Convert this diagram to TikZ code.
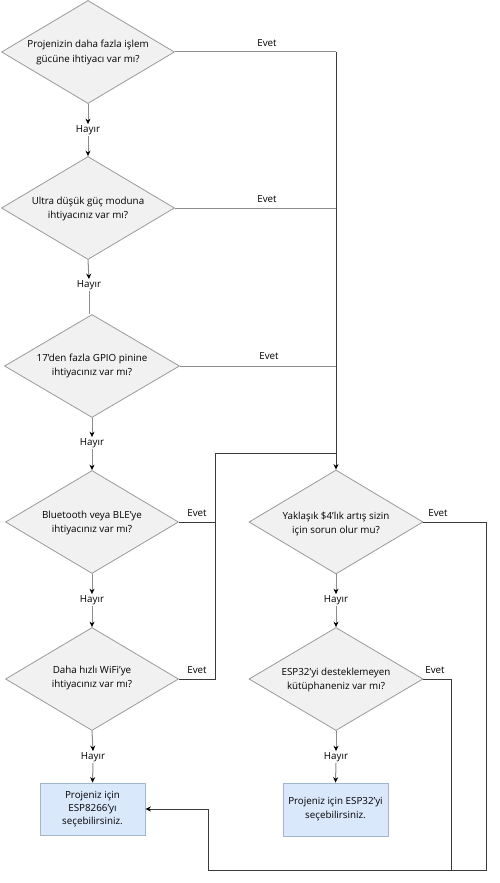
\documentclass[tikz,border=0pt]{standalone}
\usepackage{fontspec}
\setmainfont{Open Sans}
\usetikzlibrary{shapes.geometric,arrows.meta}
\definecolor{dfill}{HTML}{F1F1F1}
\definecolor{ddraw}{HTML}{9A9A9A}
\definecolor{bfill}{HTML}{DAE8FC}
\definecolor{bdraw}{HTML}{A3B6CF}
\definecolor{lgray}{HTML}{8C8C8C}
\definecolor{ldark}{HTML}{3A3A3A}
\tikzset{
  dec/.style={diamond, draw=ddraw, fill=dfill, line width=0.8pt, inner sep=0pt, minimum width=173pt, minimum height=103pt},
  dtext/.style={align=center, font=\fontsize{9.8}{14.5}\selectfont, inner sep=0pt},
  endbox/.style={draw=bdraw, fill=bfill, line width=0.8pt, minimum width=105pt, minimum height=52pt, align=center, inner sep=0pt},
  lbl/.style={font=\fontsize{9.8}{11}\selectfont, inner sep=1pt},
  flow/.style={draw=ldark, line width=0.9pt},
  gflow/.style={draw=lgray, line width=1pt},
  arr/.style={-{Stealth[length=5.5pt,width=5pt,color=black]}},
}
\begin{document}
\begin{tikzpicture}[x=1pt,y=-1pt]
\useasboundingbox (0,0) rectangle (500,883);
% decisions
\node[dec] (d1) at (88,52) {};
\node[dtext] (t1) at (88,52.5) {Projenizin daha fazla işlem\\gücüne ihtiyacı var mı?};
\node[dec] (d2) at (88,208) {};
\node[dtext] (t2) at (88,209) {Ultra düşük güç moduna\\ihtiyacınız var mı?};
\node[dec, minimum width=175pt] (d3) at (92,366) {};
\node[dtext] (t3) at (92,366) {17’den fazla GPIO pinine\\ihtiyacınız var mı?};
\node[dec] (d4) at (92,522) {};
\node[dtext] (t4) at (92,523) {Bluetooth veya BLE’ye\\ihtiyacınız var mı?};
\node[dec] (d5) at (92,679) {};
\node[dtext] (t5) at (92,678) {Daha hızlı WiFi’ye\\ihtiyacınız var mı?};
\node[dec, minimum width=174pt, minimum height=104pt] (d6) at (336,522) {};
\node[dtext] (t6) at (336,524) {Yaklaşık \$4’lık artış sizin\\için sorun olur mu?};
\node[dec, minimum width=174pt] (d7) at (336,679) {};
\node[dtext] (t7) at (336,680) {ESP32’yi desteklemeyen\\kütüphaneniz var mı?};
% end boxes
\node[endbox, font=\fontsize{9.8}{12.8}\selectfont] (b1) at (92.5,809) {Projeniz için\\ESP8266’yı\\seçebilirsiniz.};
\node[endbox, minimum height=53pt, font=\fontsize{9.8}{14}\selectfont] (b2) at (335.5,809.5) {Projeniz için ESP32’yi\\seçebilirsiniz.};
% Hayir labels
\node[lbl] (h1) at (88,130) {Hayır};
\node[lbl] (h2) at (89,285) {Hayır};
\node[lbl] (h3) at (92,443) {Hayır};
\node[lbl] (h4) at (92,600) {Hayır};
\node[lbl] (h5) at (93,757) {Hayır};
\node[lbl] (h6) at (336,600) {Hayır};
\node[lbl] (h7) at (336,757) {Hayır};
% Evet labels
\node[lbl] (e1) at (267,43) {Evet};
\node[lbl] (e2) at (267,199) {Evet};
\node[lbl] (e3) at (269,356) {Evet};
\node[lbl] (e4) at (197,513) {Evet};
\node[lbl] (e5) at (197,670) {Evet};
\node[lbl] (e6) at (438,513) {Evet};
\node[lbl] (e7) at (435,670) {Evet};
% coordinates
\coordinate (c1) at (336,52);
\coordinate (c2) at (336,208);
\coordinate (c3) at (336,366);
\coordinate (c4) at (215,522);
\coordinate (c5a) at (215,679);
\coordinate (c5b) at (215,453);
\coordinate (c5c) at (336,453);
\coordinate (c6a) at (486,522);
\coordinate (c6b) at (486,870);
\coordinate (c6c) at (208,870);
\coordinate (c6d) at (208,809);
\coordinate (c7a) at (451,679);
\coordinate (c7b) at (451,870);
\coordinate (h2top) at (89,314);
% Hayir connectors
\draw[gflow, arr] (d1.south) -- (h1.north);
\draw[gflow, arr] (h1.south) -- (d2.north);
\draw[gflow, arr] (d2.south) -- (h2.north);
\draw[gflow] (h2.south) -- (h2top);
\draw[gflow, arr] (d3.south) -- (h3.north);
\draw[gflow, arr] (h3.south) -- (d4.north);
\draw[gflow, arr] (d4.south) -- (h4.north);
\draw[gflow, arr] (h4.south) -- (d5.north);
\draw[gflow, arr] (d5.south) -- (h5.north);
\draw[gflow, arr] (h5.south) -- (b1.north);
\draw[gflow, arr] (d6.south) -- (h6.north);
\draw[gflow, arr] (h6.south) -- (d7.north);
\draw[gflow, arr] (d7.south) -- (h7.north);
\draw[gflow, arr] (h7.south) -- (b2.north);
% Evet connectors
\draw[gflow] (d1.east) -- (c1);
\draw[gflow] (d2.east) -- (c2);
\draw[gflow] (d3.east) -- (c3);
\draw[flow] (c1) -- (c3);
\draw[flow, arr] (c3) -- (d6.north);
\draw[flow] (d4.east) -- (c4);
\draw[flow] (d5.east) -- (c5a) -- (c5b) -- (c5c);
\draw[flow, arr] (d6.east) -- (c6a) -- (c6b) -- (c6c) -- (c6d) -- (b1.east);
\draw[flow] (d7.east) -- (c7a) -- (c7b);
\end{tikzpicture}
\end{document}
